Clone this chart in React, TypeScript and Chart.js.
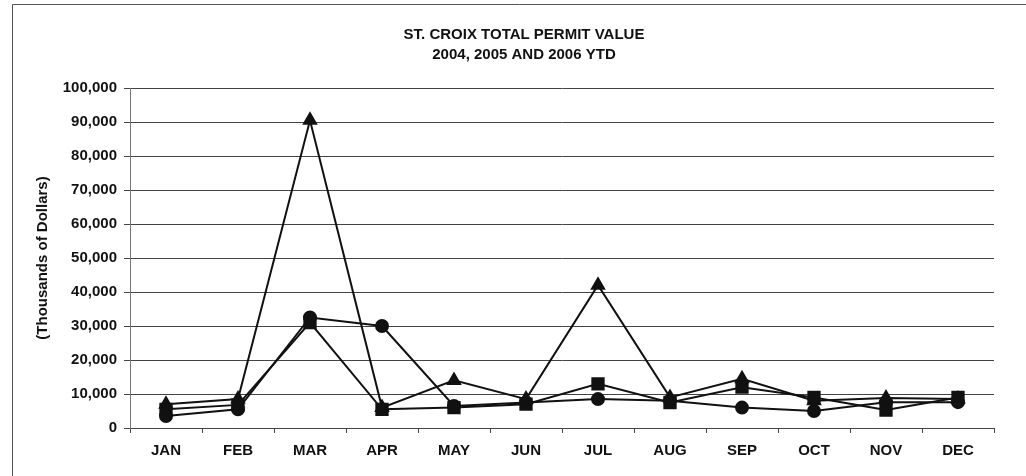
import React, { useEffect, useRef } from "react";
import { Chart, registerables } from "chart.js";

Chart.register(...registerables);

const months = ["JAN", "FEB", "MAR", "APR", "MAY", "JUN", "JUL", "AUG", "SEP", "OCT", "NOV", "DEC"];
const titleLines = ["ST. CROIX TOTAL PERMIT VALUE", "2004, 2005 AND 2006 YTD"];
const yAxisTitle = "(Thousands of Dollars)";
const triangleSeries = [7000, 8500, 90500, 6000, 14000, 8500, 42000, 9000, 14500, 8000, 8800, 8500];
const squareSeries = [5500, 6800, 31000, 5500, 6000, 7000, 13000, 7500, 12000, 9000, 5300, 9000];
const circleSeries = [3500, 5500, 32500, 30000, 6500, 7500, 8500, 8000, 6000, 5000, 7600, 7600];

const FONT = "'Liberation Sans', Arial, sans-serif";

const framePlugin = {
  id: "frame",
  beforeDraw(chart: any) {
    const { ctx, width, height } = chart;
    ctx.save();
    ctx.fillStyle = "#ffffff";
    ctx.fillRect(0, 0, width, height);
    ctx.strokeStyle = "#555555";
    ctx.lineWidth = 1;
    ctx.beginPath();
    ctx.moveTo(12.5, height);
    ctx.lineTo(12.5, 4.5);
    ctx.lineTo(width, 4.5);
    ctx.stroke();
    ctx.restore();
  },
  afterDraw(chart: any) {
    const { ctx } = chart;
    ctx.save();
    ctx.fillStyle = "#111111";
    ctx.font = `bold 15px ${FONT}`;
    ctx.textAlign = "center";
    ctx.textBaseline = "middle";
    ctx.fillText(titleLines[0], 524, 35);
    ctx.fillText(titleLines[1], 524, 55);
    ctx.restore();
  },
};

export default function App() {
  const canvasRef = useRef<HTMLCanvasElement | null>(null);

  useEffect(() => {
    if (!canvasRef.current) return;
    const common = {
      borderColor: "#111111",
      backgroundColor: "#111111",
      pointBackgroundColor: "#111111",
      pointBorderColor: "#111111",
      borderWidth: 2,
      tension: 0,
      fill: false,
    };
    const chart = new Chart(canvasRef.current, {
      type: "line",
      data: {
        labels: months,
        datasets: [
          { ...common, label: "2004", data: triangleSeries, pointStyle: "triangle", pointRadius: 7 },
          { ...common, label: "2005", data: squareSeries, pointStyle: "rect", pointRadius: 8 },
          { ...common, label: "2006 YTD", data: circleSeries, pointStyle: "circle", pointRadius: 6 },
        ],
      },
      options: {
        responsive: false,
        animation: false,
        events: [],
        layout: { padding: { left: 30, right: 32, top: 88, bottom: 0 } },
        plugins: {
          legend: { display: false },
          title: { display: false },
          tooltip: { enabled: false },
        },
        scales: {
          x: {
            offset: true,
            grid: {
              offset: true,
              drawOnChartArea: false,
              drawTicks: true,
              tickLength: 5,
              color: "#444444",
            },
            border: { display: true, color: "#444444", width: 1 },
            ticks: {
              color: "#111111",
              padding: 9,
              font: { family: FONT, size: 15, weight: "bold" },
              maxRotation: 0,
              autoSkip: false,
            },
            afterFit(scale: any) {
              scale.height = 48;
            },
          },
          y: {
            min: 0,
            max: 100000,
            grid: {
              color: "#444444",
              lineWidth: 1,
              drawTicks: true,
              tickLength: 6,
            },
            border: { display: true, color: "#777777", width: 1 },
            ticks: {
              stepSize: 10000,
              color: "#111111",
              padding: 7,
              font: { family: FONT, size: 15, weight: "bold" },
              callback: (v: any) => Number(v).toLocaleString("en-US"),
            },
            title: {
              display: true,
              text: yAxisTitle,
              color: "#111111",
              font: { family: FONT, size: 15, weight: "bold" },
              padding: { top: 4, bottom: 0 },
            },
            afterFit(scale: any) {
              scale.width = 100;
            },
          },
        },
      },
      plugins: [framePlugin],
    });
    return () => chart.destroy();
  }, []);

  return (
    <div style={{ position: "fixed", left: 0, top: 0, width: 1026, height: 476, background: "#fff" }}>
      <canvas ref={canvasRef} width={1026} height={476} style={{ display: "block" }} />
    </div>
  );
}
